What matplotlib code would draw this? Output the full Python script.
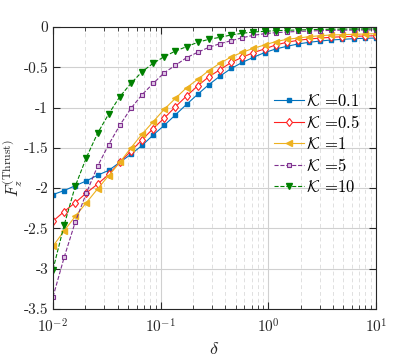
import numpy as np
import matplotlib
matplotlib.use("Agg")
import matplotlib.pyplot as plt
from matplotlib.ticker import LogLocator, NullFormatter

plt.rcParams['mathtext.fontset'] = 'cm'
plt.rcParams['font.family'] = ['cmr10', 'DejaVu Serif']
plt.rcParams['axes.unicode_minus'] = False

delta = np.logspace(-2, 1, 30)

k01 = [-2.08, -2.03, -1.97, -1.91, -1.84, -1.78, -1.68, -1.58, -1.47, -1.34,
       -1.22, -1.09, -0.96, -0.835, -0.715, -0.61, -0.515, -0.44, -0.376, -0.318,
       -0.273, -0.24, -0.211, -0.19, -0.174, -0.161, -0.153, -0.145, -0.14, -0.137]
k05 = [-2.41, -2.29, -2.18, -2.06, -1.95, -1.83, -1.68, -1.54, -1.40, -1.26,
       -1.13, -0.99, -0.856, -0.73, -0.617, -0.53, -0.44, -0.376, -0.318, -0.273,
       -0.223, -0.19, -0.165, -0.149, -0.137, -0.128, -0.12, -0.116, -0.112, -0.108]
k1 = [-2.72, -2.53, -2.35, -2.18, -2.01, -1.845, -1.68, -1.50, -1.33, -1.175,
      -1.02, -0.885, -0.753, -0.65, -0.54, -0.45, -0.372, -0.314, -0.265, -0.223,
      -0.182, -0.153, -0.137, -0.12, -0.108, -0.099, -0.095, -0.091, -0.087, -0.083]
k5 = [-3.35, -2.86, -2.42, -2.06, -1.73, -1.46, -1.22, -1.01, -0.84, -0.70,
      -0.567, -0.475, -0.38, -0.314, -0.252, -0.207, -0.17, -0.133, -0.103, -0.083,
      -0.07, -0.062, -0.055, -0.05, -0.045, -0.042, -0.04, -0.038, -0.037, -0.036]
k10 = [-3.01, -2.46, -1.975, -1.62, -1.32, -1.08, -0.865, -0.70, -0.555, -0.45,
       -0.368, -0.298, -0.244, -0.19, -0.153, -0.128, -0.099, -0.078, -0.062, -0.054,
       -0.045, -0.041, -0.037, -0.033, -0.03, -0.028, -0.026, -0.025, -0.024, -0.023]

labels = [r'$\mathcal{K}$ =0.1', r'$\mathcal{K}$ =0.5', r'$\mathcal{K}$ =1',
          r'$\mathcal{K}$ =5', r'$\mathcal{K}$ =10']
yticks = [0, -0.5, -1, -1.5, -2, -2.5, -3, -3.5]
ytick_labels = ['0', '-0.5', '-1', '-1.5', '-2', '-2.5', '-3', '-3.5']

fig = plt.figure(figsize=(4.15, 3.6), dpi=100)
ax = fig.add_axes([0.1277, 0.1417, 0.778, 0.7833])

ax.plot(delta, k01, '-', color='#0072BD', marker='s', ms=3.5, mfc='#0072BD', lw=0.8, label=labels[0])
ax.plot(delta, k05, '-', color='#FF2020', marker='d', ms=4.5, mfc='white', mew=0.8, lw=0.8, label=labels[1])
ax.plot(delta, k1, '-', color='#EDB120', marker='<', ms=5, mfc='#EDB120', lw=0.8, label=labels[2])
ax.plot(delta, k5, '--', color='#7E2F8E', marker='s', ms=3.5, mfc='#E0C8E6', mew=0.8, lw=0.8, label=labels[3])
ax.plot(delta, k10, '--', color='#008000', marker='v', ms=5, mfc='#008000', lw=0.8, label=labels[4])

ax.set_xscale('log')
ax.set_xlim(1e-2, 1e1)
ax.set_ylim(-3.5, 0)
ax.set_yticks(yticks)
ax.set_yticklabels(ytick_labels)
ax.xaxis.set_minor_locator(LogLocator(base=10, subs=np.arange(2, 10), numticks=20))
ax.xaxis.set_minor_formatter(NullFormatter())

ax.grid(True, which='major', color='#d0d0d0', lw=0.8, ls='-')
ax.grid(True, which='minor', axis='x', color='#e0e0e0', lw=0.7, ls=(0, (4, 3)))
ax.set_axisbelow(True)

ax.tick_params(which='both', direction='in', top=True, right=True, labelsize=11, colors='#262626')
ax.tick_params(which='major', length=5)
ax.tick_params(which='minor', length=3)
ax.tick_params(axis='x', which='major', pad=6)
for s in ax.spines.values():
    s.set_color('#262626')
    s.set_linewidth(0.8)

ax.set_xlabel(r'$\delta$', fontsize=13, color='#262626')
ax.set_ylabel(r'$F_z^{(\mathrm{Thrust})}$', fontsize=12, color='#262626')
ax.yaxis.set_label_coords(-0.088, 0.5)

leg = ax.legend(loc='upper left', bbox_to_anchor=(0.685, 0.765), frameon=False,
                fontsize=12, handlelength=1.8, handletextpad=0.1, labelspacing=0.3,
                borderaxespad=0, borderpad=0)

fig.savefig('out.png', dpi=100)
